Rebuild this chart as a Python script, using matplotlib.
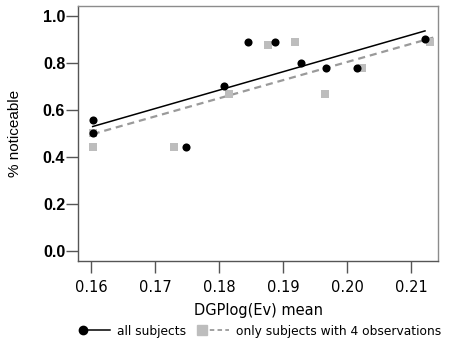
import numpy as np
import matplotlib
matplotlib.use("Agg")
import matplotlib.pyplot as plt
from matplotlib.lines import Line2D
from matplotlib.legend_handler import HandlerLine2DCompound

# DGPlog(Ev) mean per scene and share of observations rated noticeable
all_x = [0.1603, 0.1603, 0.1748, 0.1807, 0.1845, 0.1888, 0.1928, 0.1967, 0.2015, 0.2122]
all_y = [0.556, 0.500, 0.444, 0.700, 0.889, 0.889, 0.800, 0.778, 0.778, 0.900]

four_x = [0.1602, 0.1603, 0.1729, 0.1815, 0.1876, 0.1919, 0.1966, 0.2024, 0.2130]
four_y = [0.444, 0.500, 0.444, 0.667, 0.875, 0.889, 0.667, 0.778, 0.889]

# Linear fits (intercept, slope) and the x-range each fit spans
all_fit = (-0.725, 7.83)
all_range = (0.1602, 0.2122)
four_fit = (-0.738, 7.71)
four_range = (0.1602, 0.2135)

xticks = [0.16, 0.17, 0.18, 0.19, 0.20, 0.21]
xticklabels = ["0.16", "0.17", "0.18", "0.19", "0.20", "0.21"]
yticks = [0.0, 0.2, 0.4, 0.6, 0.8, 1.0]
yticklabels = ["0.0", "0.2", "0.4", "0.6", "0.8", "1.0"]


class MarkerFirstHandler(HandlerLine2DCompound):
    """Legend entry with the marker at the left end of the line."""

    def get_xdata(self, legend, xdescent, ydescent, width, height, fontsize):
        xdata = np.array([-xdescent, -xdescent + width])
        return xdata, xdata[:1]


fig = plt.figure(figsize=(4.56, 3.47), dpi=100)
ax = fig.add_axes([0.172, 0.248, 0.789, 0.735])

gray = "#bdbdbd"
dash_gray = "#9a9a9a"

fx = np.array(four_range)
ax.plot(fx, four_fit[0] + four_fit[1] * fx, color=dash_gray, lw=1.6,
        ls=(0, (3.2, 2.2)), zorder=2)
ax.scatter(four_x, four_y, marker="s", s=38, color=gray, lw=0, zorder=3)

ax_ = np.array(all_range)
ax.plot(ax_, all_fit[0] + all_fit[1] * ax_, color="black", lw=1.1, zorder=4)
ax.scatter(all_x, all_y, marker="o", s=34, color="black", lw=0, zorder=5)

ax.set_xlim(0.15797, 0.21427)
ax.set_ylim(-0.043, 1.043)

ax.set_xticks(xticks)
ax.set_xticklabels(xticklabels, fontfamily="DejaVu Sans", fontsize=10.5)
ax.set_yticks(yticks)
ax.set_yticklabels(yticklabels, fontfamily="Liberation Sans", fontsize=11.5,
                   fontweight="bold")
ax.tick_params(axis="both", direction="out", length=8.5, width=1,
               color="#555555")
ax.tick_params(axis="x", pad=5)
ax.tick_params(axis="y", pad=1)

for side in ["top", "right"]:
    ax.spines[side].set_color("#8c8c8c")
for side in ["left", "bottom"]:
    ax.spines[side].set_color("#555555")
for s in ax.spines.values():
    s.set_linewidth(1)

ax.set_xlabel("DGPlog(Ev) mean", fontfamily="DejaVu Sans", fontsize=10.5,
              labelpad=6)
ax.set_ylabel("% noticeable", fontfamily="Liberation Sans", fontsize=11,
              labelpad=15)

handles = [
    Line2D([], [], color="black", lw=1.1, marker="o", markersize=6),
    Line2D([], [], color=dash_gray, lw=1.3, ls=(0, (2.5, 1.8)), marker="s",
           markersize=6.5, markerfacecolor=gray, markeredgecolor=gray),
]
fig.legend(handles, ["all subjects", "only subjects with 4 observations"],
           loc="lower center", bbox_to_anchor=(0.575, -0.005), ncol=2,
           frameon=False, prop={"family": "DejaVu Sans", "size": 8.8},
           handlelength=2.2, handletextpad=0.6, columnspacing=1.3,
           handler_map={Line2D: MarkerFirstHandler()})

fig.savefig("out.png", dpi=100)
